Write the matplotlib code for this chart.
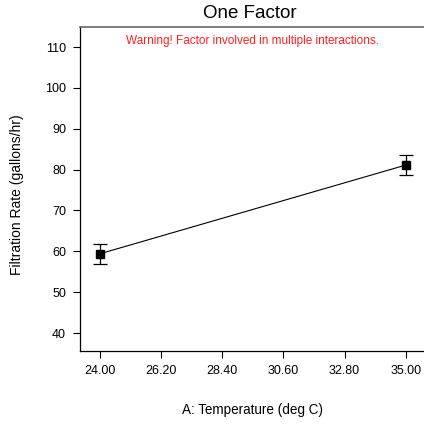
import matplotlib
matplotlib.use("Agg")
import matplotlib.pyplot as plt

temps = [24.0, 35.0]
rates = [59.4, 81.1]
errs = [2.4, 2.4]
xticks = [24.0, 26.2, 28.4, 30.6, 32.8, 35.0]
yticks = [40, 50, 60, 70, 80, 90, 100, 110]

plt.rcParams['font.family'] = ['Liberation Sans', 'DejaVu Sans']
fig = plt.figure(figsize=(4.24, 4.25), dpi=100)
ax = fig.add_axes([80/424, 1-351/425, 344/424, 324/425])
ax.errorbar(temps, rates, yerr=errs, fmt='s-', color='black', ms=6, lw=0.8,
            capsize=5, elinewidth=0.9, capthick=0.9)
ax.set_xlim(23.28, 35.66)
ax.set_ylim(35.6, 114.9)
ax.set_xticks(xticks)
ax.set_xticklabels([f"{v:.2f}" for v in xticks], fontsize=9)
ax.set_yticks(yticks)
ax.set_yticklabels([str(v) for v in yticks], fontsize=9)
ax.tick_params(direction='out', length=5, width=0.8, pad=5)
ax.spines['right'].set_visible(False)
ax.spines['top'].set_color('#666666')
ax.spines['top'].set_linewidth(1.2)
for s in ['left', 'bottom']:
    ax.spines[s].set_linewidth(0.9)
fig.text(252/424, 1-410/425, "A: Temperature (deg C)", ha='center', va='center', fontsize=9.75)
fig.text(17/424, 1-195/425, "Filtration Rate (gallons/hr)", ha='center', va='center',
         rotation=90, fontsize=10)
fig.text(0.59, 1-14/425, "One Factor", ha='center', va='center', fontsize=13.5)
fig.text(0.595, 1-41/425, "Warning! Factor involved in multiple interactions.",
         ha='center', va='center', fontsize=8.5, color='#ff2020')
fig.savefig("out.png", dpi=100)
